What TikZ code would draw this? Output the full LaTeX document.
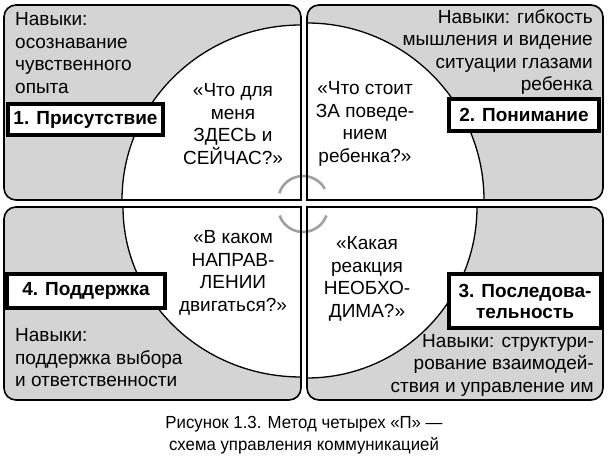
\documentclass[tikz,border=0pt]{standalone}
\usepackage{fontspec}
\setmainfont{Liberation Sans}
\newfontfamily\capfont[FakeStretch=0.96]{Liberation Sans}
\definecolor{panelgray}{RGB}{212,212,212}
\definecolor{arrowgray}{RGB}{160,160,160}
\begin{document}
\begin{tikzpicture}[x=1pt,y=1pt,
  panel/.style={fill=panelgray,draw=black,line width=1.6pt},
  qarc/.style={draw=black,line width=1.3pt},
  labelbox/.style={draw=black,fill=white,line width=4pt},
  labeltext/.style={font=\fontsize{19}{21}\selectfont\bfseries,inner sep=0pt,align=center},
  skill/.style={font=\fontsize{19}{22.5}\selectfont,inner sep=0pt},
  question/.style={font=\fontsize{19}{22.5}\selectfont,inner sep=0pt,align=center},
  caption/.style={font=\capfont\fontsize{17.5}{22}\selectfont,inner sep=0pt,align=center},
  turn/.style={draw=arrowgray,line width=2.6pt}]
\useasboundingbox (0,0) rectangle (608,457);
% ---------- panels ----------
% TL
\path[fill=panelgray] (301,257) -- (16,257) arc(270:180:12) -- (4,440) arc(180:90:12) -- (289,452) arc(90:0:12) -- cycle;
\fill[white] (301,257) -- (301,432) arc(90:180:179 and 175) -- cycle;
\draw[qarc] (301,432) arc(90:180:179 and 175);
\draw[line width=1.6pt] (301,257) -- (16,257) arc(270:180:12) -- (4,440) arc(180:90:12) -- (289,452) arc(90:0:12) -- cycle;
% TR
\path[fill=panelgray] (307,257) -- (307,440) arc(180:90:12) -- (591,452) arc(90:0:12) -- (603,269) arc(0:-90:12) -- cycle;
\fill[white] (307,257) -- (307,434) arc(90:0:177 and 177) -- cycle;
\draw[qarc] (307,434) arc(90:0:177 and 177);
\draw[line width=1.6pt] (307,257) -- (307,440) arc(180:90:12) -- (591,452) arc(90:0:12) -- (603,269) arc(0:-90:12) -- cycle;
% BL
\path[fill=panelgray] (301,250) -- (16,250) arc(90:180:12) -- (4,69) arc(180:270:12) -- (289,57) arc(270:360:12) -- cycle;
\fill[white] (301,250) -- (123,250) arc(180:270:178 and 170) -- cycle;
\draw[qarc] (123,250) arc(180:270:178 and 170);
\draw[line width=1.6pt] (301,250) -- (16,250) arc(90:180:12) -- (4,69) arc(180:270:12) -- (289,57) arc(270:360:12) -- cycle;
% BR
\path[fill=panelgray] (307,250) -- (591,250) arc(90:0:12) -- (603,69) arc(0:-90:12) -- (319,57) arc(270:180:12) -- cycle;
\fill[white] (307,250) -- (477,250) arc(0:-90:170 and 171) -- cycle;
\draw[qarc] (477,250) arc(0:-90:170 and 171);
\draw[line width=1.6pt] (307,250) -- (591,250) arc(90:0:12) -- (603,69) arc(0:-90:12) -- (319,57) arc(270:180:12) -- cycle;
% ---------- rotation arcs ----------
\fill[white] (301.8,200) rectangle (306.2,457);
\fill[white] (301.8,0) rectangle (306.2,255);
\fill[white] (0,250.8) rectangle (608,256.2);
\coordinate (cu) at (303,256);
\coordinate (cl) at (303,250);
\draw[turn] ([shift={(29:25)}]cu) arc(29:162:25);
\draw[turn] ([shift={(200:25)}]cl) arc(200:340:25);
\draw[line width=1.6pt] (301,257) -- (301,440) (307,257) -- (307,440) (301,250) -- (301,69) (307,250) -- (307,69);
\draw[line width=1.6pt] (180,257) -- (301,257) (307,257) -- (430,257) (180,250) -- (301,250) (307,250) -- (430,250);
% ---------- skills ----------
\node[skill,anchor=west,align=left] (s1) at (15,404) {Навыки:\\осознавание\\чувственного\\опыта};
\node[skill,anchor=east,align=right] (s2) at (593,405) {Навыки: гибкость\\мышления и видение\\ситуации глазами\\ребенка};
\node[skill,anchor=west,align=left] (s4) at (15,99) {Навыки:\\поддержка выбора\\и ответственности};
\node[skill,anchor=east,align=right] (s3) at (594,92) {Навыки: структури-\\рование взаимодей-\\ствия и управление им};
% ---------- label boxes ----------
\draw[labelbox] (8,322) rectangle (163,353);
\node[labeltext] (l1) at (85.5,337.5) {1. Присутствие};
\draw[labelbox] (449,326) rectangle (599,358);
\node[labeltext] (l2) at (524,342) {2. Понимание};
\draw[labelbox] (7,149) rectangle (165,183);
\node[labeltext] (l4) at (86,166) {4. Поддержка};
\draw[labelbox] (449,129) rectangle (601,183);
\node[labeltext] (l3) at (525,156) {3. Последова-\\тельность};
% ---------- questions ----------
\node[question] (q1) at (233,333) {«Что для\\меня\\ЗДЕСЬ и\\СЕЙЧАС?»};
\node[question] (q2) at (365,333) {«Что стоит\\ЗА поведе-\\нием\\ребенка?»};
\node[question] (q4) at (233,184) {«В каком\\НАПРАВ-\\ЛЕНИИ\\двигаться?»};
\node[question] (q3) at (367,178) {«Какая\\реакция\\НЕОБХО-\\ДИМА?»};
% ---------- caption ----------
\node[caption] (cap) at (304,21.5) {Рисунок 1.3. Метод четырех «П» —\\схема управления коммуникацией};
\end{tikzpicture}
\end{document}
